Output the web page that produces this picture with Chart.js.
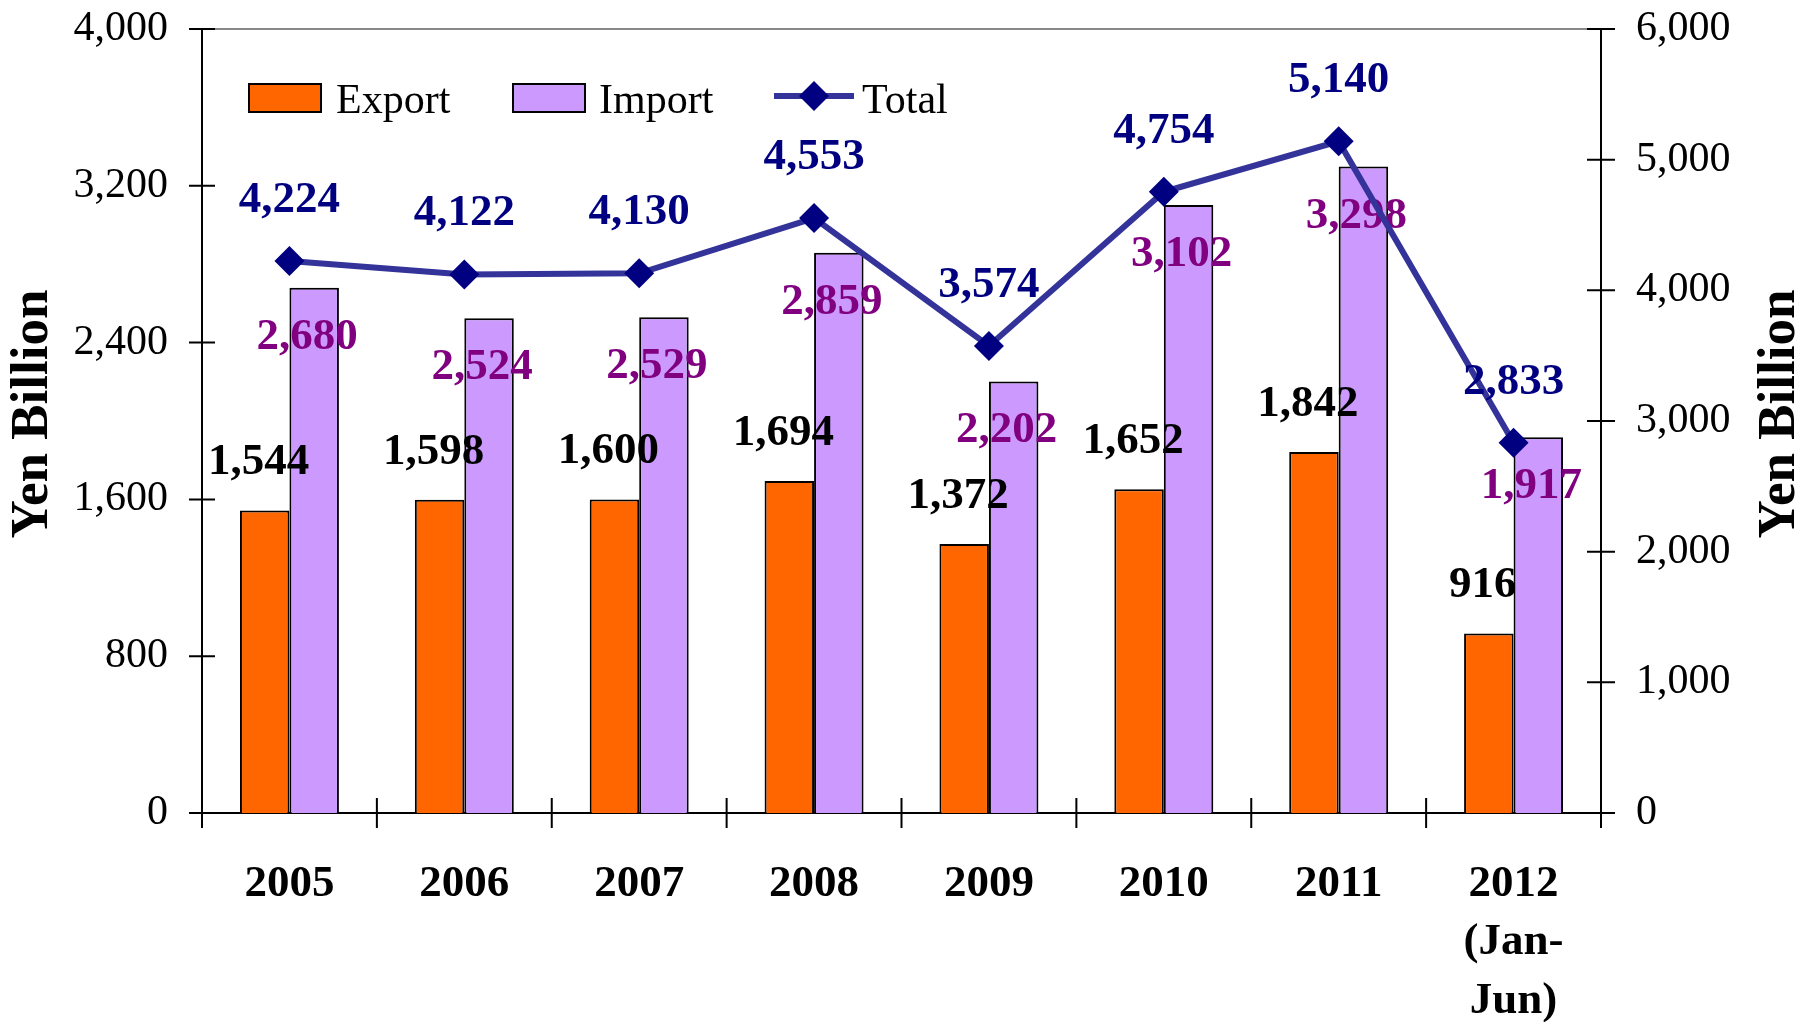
<!DOCTYPE html>
<html>
<head>
<meta charset="utf-8">
<title>Export / Import / Total</title>
<script src="https://cdn.jsdelivr.net/npm/chart.js@4.4.1/dist/chart.umd.min.js"></script>
<style>
  html, body { margin: 0; padding: 0; background: #fff; }
  #wrap { width: 1801px; height: 1022px; }
</style>
</head>
<body>
<div id="wrap"><canvas id="chart"></canvas></div>
<script>
const years = ["2005", "2006", "2007", "2008", "2009", "2010", "2011", ["2012", "(Jan-", "Jun)"]];
const exportValues = [1544, 1598, 1600, 1694, 1372, 1652, 1842, 916];
const importValues = [2680, 2524, 2529, 2859, 2202, 3102, 3298, 1917];
const totalValues = [4224, 4122, 4130, 4553, 3574, 4754, 5140, 2833];

const LEFT_MAX = 4000, LEFT_STEP = 800;
const RIGHT_MAX = 6000, RIGHT_STEP = 1000;
const AXIS_TITLE = "Yen Billion";

const SERIF = '"Liberation Serif", "Times New Roman", serif';
const fmt = v => Number(v).toLocaleString("en-US");

// crossing ticks + grey top border, like the old Excel chart
const axisTicks = {
  id: "axisTicks",
  afterDraw(chart) {
    const { ctx, chartArea: a, scales } = chart;
    ctx.save();
    ctx.lineWidth = 2;
    ctx.strokeStyle = "#888";
    ctx.beginPath();
    ctx.moveTo(a.left, a.top);
    ctx.lineTo(a.right, a.top);
    ctx.stroke();

    ctx.strokeStyle = "#000";
    ctx.beginPath();
    scales.y.ticks.forEach(t => {
      const py = scales.y.getPixelForValue(t.value);
      ctx.moveTo(a.left - 13, py);
      ctx.lineTo(a.left + 13, py);
    });
    scales.y1.ticks.forEach(t => {
      const py = scales.y1.getPixelForValue(t.value);
      ctx.moveTo(a.right - 14, py);
      ctx.lineTo(a.right + 14, py);
    });
    const x = scales.x;
    const half = (x.getPixelForValue(1) - x.getPixelForValue(0)) / 2;
    for (let i = 0; i <= years.length; i++) {
      const px = i < years.length ? x.getPixelForValue(i) - half : x.getPixelForValue(i - 1) + half;
      ctx.moveTo(px, a.bottom - 15);
      ctx.lineTo(px, a.bottom + 15);
    }
    ctx.stroke();
    ctx.restore();

    // both axis titles read bottom-to-top
    const midY = (a.top + a.bottom) / 2 - 7;
    [scales.y.left + 33, scales.y1.right - 21].forEach(tx => {
      ctx.save();
      ctx.font = `bold 53px ${SERIF}`;
      ctx.fillStyle = "#000";
      ctx.textAlign = "center";
      ctx.textBaseline = "middle";
      ctx.translate(tx, midY);
      ctx.rotate(-Math.PI / 2);
      ctx.fillText(AXIS_TITLE, 0, 0);
      ctx.restore();
    });
  }
};

function drawLabel(ctx, text, x, y, color) {
  ctx.fillStyle = color;
  ctx.fillText(text, x, y);
}

const valueLabels = {
  id: "valueLabels",
  beforeDatasetDraw(chart, args) {
    if (args.index !== 2) return;
    const { ctx } = chart;
    ctx.save();
    ctx.font = `bold 45px ${SERIF}`;
    ctx.textAlign = "center";
    ctx.textBaseline = "alphabetic";
    chart.getDatasetMeta(0).data.forEach((bar, i) => {
      drawLabel(ctx, fmt(exportValues[i]), bar.x - 6, bar.y - 36, "#000");
    });
    chart.getDatasetMeta(1).data.forEach((bar, i) => {
      drawLabel(ctx, fmt(importValues[i]), bar.x - 7, bar.y + 61, "#800080");
    });
    ctx.restore();
  },
  afterDatasetsDraw(chart) {
    const { ctx } = chart;
    ctx.save();
    ctx.font = `bold 45px ${SERIF}`;
    ctx.textAlign = "center";
    ctx.textBaseline = "alphabetic";
    chart.getDatasetMeta(2).data.forEach((pt, i) => {
      drawLabel(ctx, fmt(totalValues[i]), pt.x, pt.y - 49, "#000080");
    });
    ctx.restore();
  }
};

const legendBox = {
  id: "legendBox",
  afterDraw(chart) {
    const { ctx } = chart;
    ctx.save();
    ctx.font = `42px ${SERIF}`;
    ctx.textBaseline = "alphabetic";
    ctx.textAlign = "left";
    ctx.lineWidth = 2;
    ctx.strokeStyle = "#000";

    ctx.fillStyle = "#FF6600";
    ctx.fillRect(249, 84, 72, 28);
    ctx.strokeRect(249, 84, 72, 28);
    ctx.fillStyle = "#000";
    ctx.fillText("Export", 336, 113);

    ctx.fillStyle = "#CC99FF";
    ctx.fillRect(513, 84, 72, 28);
    ctx.strokeRect(513, 84, 72, 28);
    ctx.fillStyle = "#000";
    ctx.fillText("Import", 599, 113);

    ctx.strokeStyle = "#333399";
    ctx.lineWidth = 6;
    ctx.beginPath();
    ctx.moveTo(774, 96);
    ctx.lineTo(854, 96);
    ctx.stroke();
    ctx.fillStyle = "#000080";
    ctx.beginPath();
    ctx.moveTo(814, 81);
    ctx.lineTo(829, 96);
    ctx.lineTo(814, 111);
    ctx.lineTo(799, 96);
    ctx.closePath();
    ctx.fill();
    ctx.fillStyle = "#000";
    ctx.fillText("Total", 862, 113);
    ctx.restore();
  }
};

function fixWidth(w) {
  return scale => {
    scale.width = w;
    scale.paddingTop = 0;
    scale.paddingBottom = 0;
  };
}

function renderChart() {
  new Chart(document.getElementById("chart"), {
    type: "bar",
    data: {
      labels: years,
      datasets: [
        { label: "Export", data: exportValues, yAxisID: "y", order: 2, backgroundColor: "#FF6600", borderColor: "#000", borderWidth: 2, categoryPercentage: 0.566, barPercentage: 1.0 },
        { label: "Import", data: importValues, yAxisID: "y", order: 2, backgroundColor: "#CC99FF", borderColor: "#000", borderWidth: 2, categoryPercentage: 0.566, barPercentage: 1.0 },
        { label: "Total", type: "line", data: totalValues, yAxisID: "y1", order: 1, borderColor: "#333399", borderWidth: 6, tension: 0, pointStyle: "rectRot", pointRadius: 15, pointBackgroundColor: "#000080", pointBorderColor: "#000080", pointBorderWidth: 0 }
      ]
    },
    options: {
      responsive: true,
      maintainAspectRatio: false,
      animation: false,
      layout: { padding: { top: 29, left: 0, right: 0, bottom: 0 } },
      scales: {
        x: {
          grid: { display: false, drawTicks: false },
          border: { display: true, color: "#000", width: 2 },
          ticks: { color: "#000", padding: 42, maxRotation: 0, font: { family: SERIF, size: 45, weight: "bold", lineHeight: 1.3 } },
          afterFit(scale) {
            scale.height = 209;
            scale.paddingLeft = 0;
            scale.paddingRight = 0;
          }
        },
        y: {
          position: "left",
          min: 0, max: LEFT_MAX,
          grid: { display: false, drawTicks: false },
          border: { display: true, color: "#000", width: 2 },
          ticks: { stepSize: LEFT_STEP, color: "#000", padding: 34, font: { family: SERIF, size: 42 }, callback: v => fmt(v) },
          afterFit: fixWidth(202)
        },
        y1: {
          position: "right",
          min: 0, max: RIGHT_MAX,
          grid: { display: false, drawTicks: false },
          border: { display: true, color: "#000", width: 2 },
          ticks: { stepSize: RIGHT_STEP, color: "#000", padding: 35, font: { family: SERIF, size: 42 }, callback: v => fmt(v) },
          afterFit: fixWidth(200)
        }
      },
      plugins: { legend: { display: false }, tooltip: { enabled: false } }
    },
    plugins: [axisTicks, valueLabels, legendBox]
  });
}

window.addEventListener("load", renderChart);
</script>
</body>
</html>
